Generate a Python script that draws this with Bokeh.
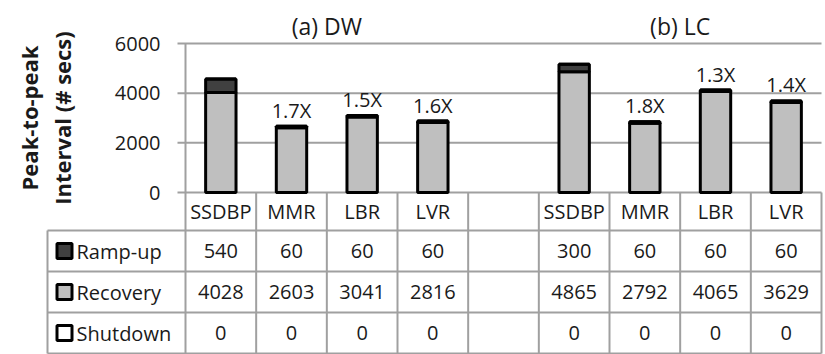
from bokeh.plotting import figure
from bokeh.models import Range1d, ColumnDataSource
from bokeh.core.properties import value
from bokeh.embed import file_html
from bokeh.resources import INLINE
import math

# ---------------- data ----------------
groups = ["(a) DW", "(b) LC"]
methods = ["SSDBP", "MMR", "LBR", "LVR"]
series = ["Ramp-up", "Recovery", "Shutdown"]
dw_rampup = [540, 60, 60, 60]
dw_recovery = [4028, 2603, 3041, 2816]
dw_shutdown = [0, 0, 0, 0]
lc_rampup = [300, 60, 60, 60]
lc_recovery = [4865, 2792, 4065, 3629]
lc_shutdown = [0, 0, 0, 0]
dw_speedup = ["", "1.7X", "1.5X", "1.6X"]
lc_speedup = ["", "1.8X", "1.3X", "1.4X"]
y_ticks = [0, 2000, 4000, 6000]
y_tick_labels = ["0", "2000", "4000", "6000"]
y_label_lines = ["Peak-to-peak", "Interval (# secs)"]

# ---------------- style / layout (pixels) ----------------
FONT = "Open Sans"
TXT = "#1a1a1a"
GRID = "#a0a0a0"
colors = {"Ramp-up": "#404040", "Recovery": "#bfbfbf", "Shutdown": "#ffffff"}

W, H = 825, 354
X0 = 185                 # x of category axis start
X9 = 821                 # x of table right edge
ncol = len(methods) * len(groups) + 1
COL = (X9 - X0) / ncol   # px per category column
ZERO = 192               # y of value 0
PPU = (192 - 43) / 6000  # px per value unit
HEAD_BOTTOM = 230        # bottom of header row
ROW = 41                 # px per table row


def px_x(px):
    return (px - X0) / COL


def px_y(py):
    return (ZERO - py) / PPU


def px_row(py):
    return (HEAD_BOTTOM + ROW * len(series) - py) / ROW


rampup = [dw_rampup, lc_rampup]
recovery = [dw_recovery, lc_recovery]
shutdown = [dw_shutdown, lc_shutdown]
speedup = [dw_speedup, lc_speedup]

xs, rec, ramp, shut, lab, cats = [], [], [], [], [], []
for g in range(len(groups)):
    for i, m in enumerate(methods):
        xs.append(g * (len(methods) + 1) + i + 0.5)
        rec.append(recovery[g][i])
        ramp.append(rampup[g][i])
        shut.append(shutdown[g][i])
        lab.append(speedup[g][i])
        cats.append(m)

ru_top = [a + b for a, b in zip(rec, ramp)]
sd_top = [a + b for a, b in zip(ru_top, shut)]
lab_y = [t + 16 / PPU for t in sd_top]

p = figure(width=W, height=H,
           x_range=Range1d(px_x(0), px_x(W)),
           y_range=Range1d(px_y(H), px_y(0)),
           output_backend="svg", toolbar_location=None,
           x_axis_location=None, y_axis_location=None, min_border=0)
p.extra_y_ranges = {"table": Range1d(px_row(H), px_row(0))}
p.outline_line_color = None
p.grid.visible = False

# ---------------- value axis: grid, ticks, labels ----------------
nt = len(y_ticks)
p.segment(x0=[px_x(177)] * nt, x1=[ncol] * nt, y0=y_ticks, y1=y_ticks,
          line_color=GRID, line_width=2)
p.segment(x0=[0], x1=[0], y0=[0], y1=[max(y_ticks)], line_color=GRID,
          line_width=2)
p.text(x=[0] * nt, y=y_ticks, text=y_tick_labels, x_offset=-25,
       text_align="right", text_baseline="middle", text_font=value(FONT),
       text_font_size="20px", text_color=TXT)
p.text(x=[px_x(28), px_x(61)], y=[px_y(117.5)] * 2, text=y_label_lines,
       angle=math.pi / 2, text_align="center", text_baseline="middle",
       text_font=value(FONT), text_font_style="bold", text_font_size="22px",
       text_color=TXT)

# ---------------- stacked bars ----------------
src = ColumnDataSource(dict(x=xs, zero=[0] * len(xs), r_top=rec,
                            ru_top=ru_top, sd_top=sd_top, lab=lab,
                            lab_y=lab_y, cat=cats))
BW = 0.43
p.vbar(x="x", bottom="zero", top="r_top", width=BW, source=src,
       fill_color=colors["Recovery"], line_color="black", line_width=3)
p.vbar(x="x", bottom="r_top", top="ru_top", width=BW, source=src,
       fill_color=colors["Ramp-up"], line_color="black", line_width=3)
p.vbar(x="x", bottom="ru_top", top="sd_top", width=BW, source=src,
       fill_color=colors["Shutdown"], line_color="black", line_width=3)
p.text(x="x", y="lab_y", text="lab", source=src, text_align="center",
       text_baseline="middle", text_font=value(FONT),
       text_font_size="20px", text_color=TXT)

# group titles
gx = [g * (len(methods) + 1) + len(methods) / 2 for g in range(len(groups))]
p.text(x=gx, y=[px_y(25.5)] * len(gx), text=groups, text_align="center",
       text_baseline="middle", text_font=value(FONT),
       text_font_size="23px", text_color=TXT)

# ---------------- data table ----------------
nrow = len(series)
head_top = px_row(ZERO)
vb = list(range(0, ncol + 1))
p.segment(x0=vb, x1=vb, y0=[0] * len(vb), y1=[head_top] * len(vb),
          line_color=GRID, line_width=2, y_range_name="table")
leg_left = px_x(47)
p.segment(x0=[leg_left], x1=[leg_left], y0=[0], y1=[nrow],
          line_color=GRID, line_width=2, y_range_name="table")
hy = list(range(nrow + 1))
p.segment(x0=[leg_left] * len(hy), x1=[ncol] * len(hy), y0=hy, y1=hy,
          line_color=GRID, line_width=2, y_range_name="table")

p.text(x="x", y=(head_top + nrow) / 2, text="cat", source=src,
       text_align="center", text_baseline="middle", text_font=value(FONT),
       text_font_size="20px", text_color=TXT, y_range_name="table")

row_y = [nrow - k - 0.5 for k in range(nrow)]
p.rect(x=[px_x(64)] * nrow, y=row_y, width=15, height=15,
       width_units="screen", height_units="screen",
       fill_color=[colors[s] for s in series], line_color="black",
       line_width=3, y_range_name="table")
p.text(x=[px_x(76)] * nrow, y=row_y, text=series, text_align="left",
       text_baseline="middle", text_font=value(FONT), text_font_size="20px",
       text_color=TXT, y_range_name="table")

vals = [ramp, rec, shut]
tx, ty, tt = [], [], []
for k in range(nrow):
    for j in range(len(xs)):
        tx.append(xs[j])
        ty.append(row_y[k])
        tt.append(str(vals[k][j]))
p.text(x=tx, y=ty, text=tt, text_align="center", text_baseline="middle",
       text_font=value(FONT), text_font_size="20px", text_color=TXT,
       y_range_name="table")

open("out.html", "w").write(file_html(p, INLINE))
